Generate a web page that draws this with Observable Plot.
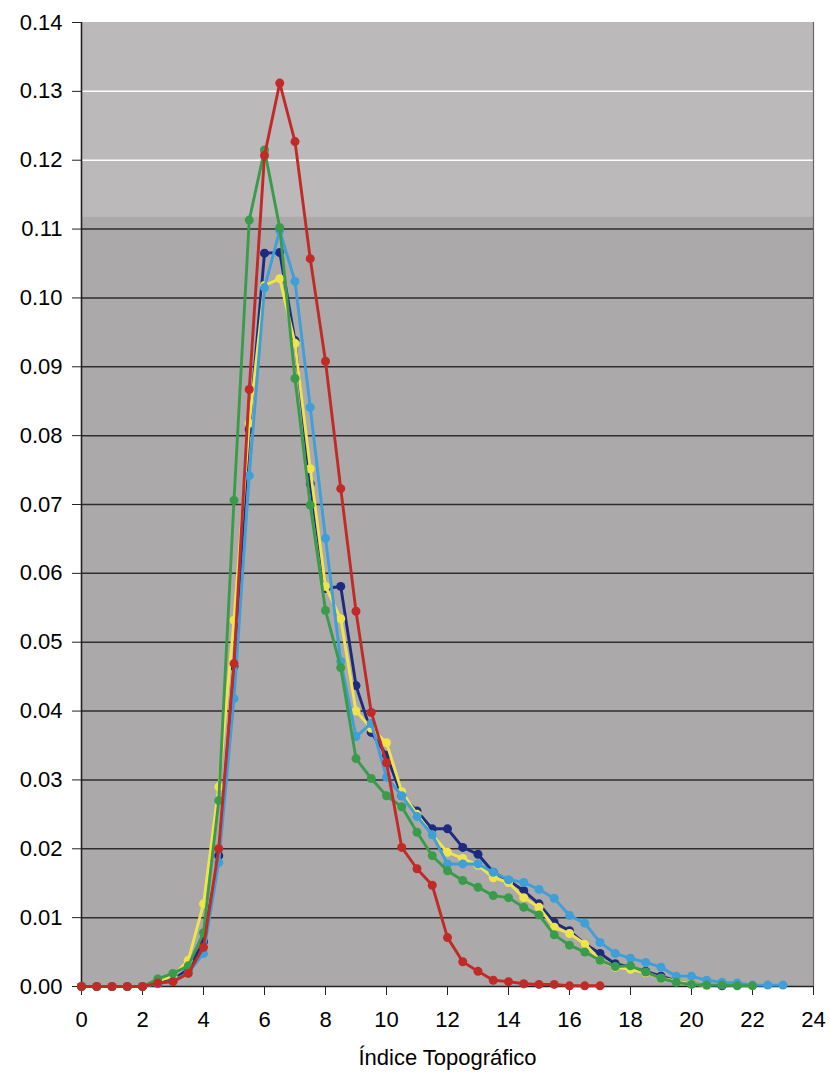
<!DOCTYPE html>
<html>
<head>
<meta charset="utf-8">
<script src="https://cdn.jsdelivr.net/npm/d3@7"></script>
<script src="https://cdn.jsdelivr.net/npm/@observablehq/plot@0.6"></script>
<style>
  html, body { margin: 0; padding: 0; background: #ffffff; }
  #chart svg { display: block; }
</style>
</head>
<body>
<div id="chart"></div>
<script>
// x values: bins of the topographic index, every 0.5 starting at 0
const xStep = 0.5;

const serieRoja = [0, 0, 0, 0, 0, 0.0005, 0.0007, 0.0019, 0.0057, 0.020, 0.0469, 0.0867, 0.1207, 0.1312, 0.1227, 0.1057, 0.0908, 0.0723, 0.0545, 0.0398, 0.0325, 0.0202, 0.0171, 0.0147, 0.0071, 0.0036, 0.0022, 0.0009, 0.0007, 0.0004, 0.0003, 0.0003, 0.0001, 0.0001, 0.0001];
const serieAzulOscuro = [0, 0, 0, 0, 0, 0.0005, 0.001, 0.0025, 0.0065, 0.019, 0.0465, 0.0809, 0.1065, 0.1066, 0.0938, 0.073, 0.0578, 0.0581, 0.0437, 0.0369, 0.0336, 0.0277, 0.0255, 0.0229, 0.0229, 0.0202, 0.0192, 0.0166, 0.0154, 0.0139, 0.012, 0.0093, 0.0081, 0.0062, 0.0048, 0.0033, 0.0028, 0.0022, 0.0015, 0.0008, 0.0004, 0.0002, 0.0001];
const serieAmarilla = [0, 0, 0, 0, 0, 0.0008, 0.0015, 0.0038, 0.012, 0.029, 0.0532, 0.0818, 0.1018, 0.1028, 0.0934, 0.0752, 0.0581, 0.0534, 0.040, 0.0375, 0.0354, 0.0283, 0.025, 0.022, 0.0195, 0.0186, 0.0176, 0.0158, 0.0151, 0.0129, 0.0115, 0.0086, 0.0077, 0.0062, 0.0038, 0.0028, 0.0025, 0.002, 0.0012, 0.0008, 0.0004, 0.0001];
const serieCeleste = [0, 0, 0, 0, 0, 0.0004, 0.0008, 0.002, 0.0048, 0.018, 0.0418, 0.0742, 0.1015, 0.1098, 0.1024, 0.0841, 0.0651, 0.0472, 0.0363, 0.0382, 0.0304, 0.0277, 0.0247, 0.022, 0.0178, 0.0178, 0.0178, 0.0166, 0.0155, 0.0151, 0.0141, 0.0128, 0.0103, 0.0092, 0.0064, 0.0048, 0.0041, 0.0035, 0.0028, 0.0015, 0.0015, 0.0009, 0.0006, 0.0005, 0.0002, 0.0002, 0.0002];
const serieVerde = [0, 0, 0, 0, 0, 0.0011, 0.0019, 0.003, 0.0078, 0.027, 0.0706, 0.1113, 0.1215, 0.1102, 0.0883, 0.0699, 0.0546, 0.0463, 0.0331, 0.0302, 0.0277, 0.0261, 0.0224, 0.019, 0.0168, 0.0154, 0.0144, 0.0132, 0.0129, 0.0115, 0.0104, 0.0075, 0.006, 0.005, 0.0038, 0.0029, 0.003, 0.0021, 0.0012, 0.0006, 0.0003, 0.0002, 0.0002, 0.0001, 0.0001];

// drawing order: bottom to top
const seriesNames = ["azulOscuro", "amarilla", "celeste", "verde", "roja"];
const seriesValues = [serieAzulOscuro, serieAmarilla, serieCeleste, serieVerde, serieRoja];
const seriesColors = ["#1e2a80", "#f0e44c", "#3e9fd9", "#3a9c4b", "#c22a28"];

const xTicks = [0, 2, 4, 6, 8, 10, 12, 14, 16, 18, 20, 22, 24];
const yTicks = [0, 0.01, 0.02, 0.03, 0.04, 0.05, 0.06, 0.07, 0.08, 0.09, 0.10, 0.11, 0.12, 0.13, 0.14];
const xLabel = "Índice Topográfico";

// lighter scanned band at the top of the plot area
const bandBottom = 0.1117;

const data = [];
seriesNames.forEach((name, i) => {
  seriesValues[i].forEach((v, j) => data.push({ serie: name, x: j * xStep, y: v }));
});

const seriesMarks = seriesNames.flatMap((name) => {
  const d = data.filter((r) => r.serie === name);
  return [
    Plot.line(d, { x: "x", y: "y", stroke: "serie", strokeWidth: 2.9 }),
    Plot.dot(d, { x: "x", y: "y", fill: "serie", r: 4.5, stroke: "none" })
  ];
});

const chart = Plot.plot({
  width: 830,
  height: 1082,
  marginLeft: 81,
  marginRight: 17,
  marginTop: 22,
  marginBottom: 96,
  style: { fontFamily: "'Liberation Sans', Arial, sans-serif", fontSize: "22px", color: "#000", background: "#fff" },
  x: { domain: [0, 24] },
  y: { domain: [0, 0.14] },
  color: { domain: seriesNames, range: seriesColors },
  marks: [
    Plot.frame({ fill: "#aca9ab", stroke: "none" }),
    Plot.rectY([bandBottom], { x1: 0, x2: 24, y1: (d) => d, y2: 0.14, fill: "#bbb9ba" }),
    Plot.ruleY(yTicks.filter((d) => d < bandBottom && d > 0), { stroke: "#2e2e2e", strokeWidth: 1.5 }),
    Plot.ruleY(yTicks.filter((d) => d > bandBottom && d < 0.14), { stroke: "#ffffff", strokeWidth: 1.5 }),
    Plot.ruleX([24], { stroke: "#666", strokeWidth: 1.2 }),
    Plot.ruleY([0], { stroke: "#222", strokeWidth: 1.6 }),
    Plot.ruleX([0], { stroke: "#222", strokeWidth: 1.6 }),
    Plot.axisY({ ticks: yTicks, tickFormat: d3.format(".2f"), tickSize: 9, tickPadding: 10, label: null, stroke: "#222", fontSize: 22 }),
    Plot.axisX({ ticks: xTicks, tickFormat: d3.format("d"), tickSize: 9, tickPadding: 16, label: null, stroke: "#222", fontSize: 22 }),
    Plot.text([xLabel], { frameAnchor: "bottom", dy: 78, text: (d) => d, fontSize: 22, lineAnchor: "bottom", fill: "#000" }),
    ...seriesMarks
  ]
});

document.getElementById("chart").appendChild(chart);
</script>
</body>
</html>
